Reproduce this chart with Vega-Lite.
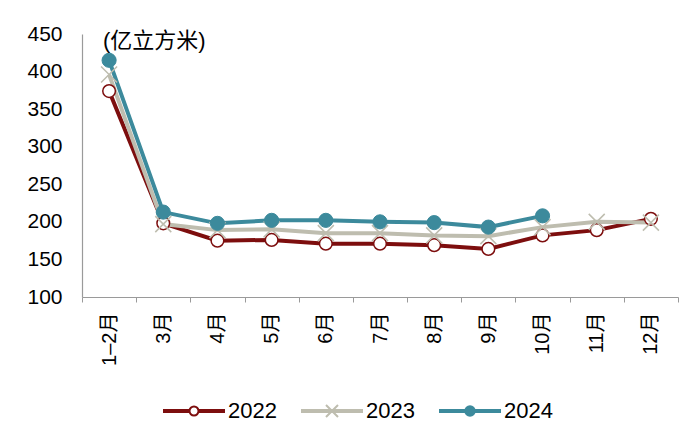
{
  "$schema": "https://vega.github.io/schema/vega-lite/v6.json",
  "width": 596,
  "height": 263,
  "autosize": {"type": "none"},
  "padding": {"left": 82, "top": 34, "right": 22, "bottom": 143},
  "background": "white",
  "config": {
    "view": {"stroke": null},
    "font": "Liberation Sans, Noto Sans CJK SC",
    "axis": {"labelFont": "Liberation Sans, Noto Sans CJK SC", "labelColor": "#000000", "domainColor": "#9a9a9a", "tickColor": "#9a9a9a", "grid": false}
  },
  "title": {
    "text": "(亿立方米)",
    "anchor": "start",
    "frame": "group",
    "orient": "top",
    "offset": -30,
    "dx": 21,
    "fontSize": 22,
    "fontWeight": "normal",
    "color": "#000000",
    "font": "Liberation Sans, Noto Sans CJK SC"
  },
  "data": {
    "values": [
      {"month": "1–2月", "year": "2022", "value": 374},
      {"month": "3月", "year": "2022", "value": 198},
      {"month": "4月", "year": "2022", "value": 175},
      {"month": "5月", "year": "2022", "value": 176},
      {"month": "6月", "year": "2022", "value": 171},
      {"month": "7月", "year": "2022", "value": 171},
      {"month": "8月", "year": "2022", "value": 169},
      {"month": "9月", "year": "2022", "value": 164},
      {"month": "10月", "year": "2022", "value": 182},
      {"month": "11月", "year": "2022", "value": 189},
      {"month": "12月", "year": "2022", "value": 204},
      {"month": "1–2月", "year": "2023", "value": 396},
      {"month": "3月", "year": "2023", "value": 197},
      {"month": "4月", "year": "2023", "value": 189},
      {"month": "5月", "year": "2023", "value": 190},
      {"month": "6月", "year": "2023", "value": 185},
      {"month": "7月", "year": "2023", "value": 185},
      {"month": "8月", "year": "2023", "value": 182},
      {"month": "9月", "year": "2023", "value": 181},
      {"month": "10月", "year": "2023", "value": 193},
      {"month": "11月", "year": "2023", "value": 200},
      {"month": "12月", "year": "2023", "value": 199},
      {"month": "1–2月", "year": "2024", "value": 415},
      {"month": "3月", "year": "2024", "value": 213},
      {"month": "4月", "year": "2024", "value": 198},
      {"month": "5月", "year": "2024", "value": 202},
      {"month": "6月", "year": "2024", "value": 202},
      {"month": "7月", "year": "2024", "value": 200},
      {"month": "8月", "year": "2024", "value": 199},
      {"month": "9月", "year": "2024", "value": 193},
      {"month": "10月", "year": "2024", "value": 208}
    ]
  },
  "encoding": {
    "x": {
      "field": "month",
      "type": "ordinal",
      "sort": ["1–2月", "3月", "4月", "5月", "6月", "7月", "8月", "9月", "10月", "11月", "12月"],
      "bandPosition": 0.5,
      "scale": {"type": "band", "paddingInner": 0, "paddingOuter": 0},
      "axis": {
        "title": null,
        "labelAngle": 270,
        "labelAlign": "right",
        "labelBaseline": "middle",
        "labelFontSize": 20,
        "labelPadding": 10,
        "tickBand": "extent",
        "tickSize": 5,
        "ticks": true,
        "domainWidth": 1.2
      }
    },
    "y": {
      "field": "value",
      "type": "quantitative",
      "scale": {"domain": [100, 450], "nice": false, "zero": false},
      "axis": {
        "title": null,
        "values": [100, 150, 200, 250, 300, 350, 400, 450],
        "ticks": false,
        "tickSize": 0,
        "labelPadding": 20,
        "labelFontSize": 21,
        "domainWidth": 1.2
      }
    }
  },
  "layer": [
    {
      "mark": {"type": "line", "strokeWidth": 4},
      "encoding": {
        "stroke": {
          "field": "year",
          "type": "nominal",
          "scale": {"domain": ["2022", "2023", "2024"], "range": ["#7d0e0e", "#bebdaf", "#3c8a9c"]},
          "legend": {
            "title": null,
            "orient": "none",
            "direction": "horizontal",
            "legendX": 81,
            "legendY": 346,
            "padding": 0,
            "symbolSize": 3600,
            "symbolStrokeWidth": 2,
            "labelFontSize": 22,
            "labelFont": "Liberation Sans",
            "labelColor": "#000000",
            "labelOffset": 3,
            "columnPadding": 21,
            "encode": {
              "symbols": {
                "update": {
                  "shape": {"signal": "datum.value == '2022' ? 'M-1,-0.033L-0.15,-0.033L-0.15,0.033L-1,0.033ZM0.15,-0.033L1,-0.033L1,0.033L0.15,0.033ZM0.15,0C0.15,0.0828 0.0828,0.15 0,0.15C-0.0828,0.15 -0.15,0.0828 -0.15,0C-0.15,-0.0828 -0.0828,-0.15 0,-0.15C0.0828,-0.15 0.15,-0.0828 0.15,0Z' : datum.value == '2023' ? 'M-1,-0.033L1,-0.033L1,0.033L-1,0.033ZM-0.2,-0.2L0.2,0.2M-0.2,0.2L0.2,-0.2' : 'M-1,-0.033L1,-0.033L1,0.033L-1,0.033ZM0.16,0C0.16,0.0884 0.0884,0.16 0,0.16C-0.0884,0.16 -0.16,0.0884 -0.16,0C-0.16,-0.0884 -0.0884,-0.16 0,-0.16C0.0884,-0.16 0.16,-0.0884 0.16,0Z'"},
                  "fill": {"signal": "datum.value == '2022' ? '#ffffff' : datum.value == '2023' ? 'transparent' : '#3c8a9c'"},
                  "strokeWidth": {"value": 2}
                }
              }
            }
          }
        }
      }
    },
    {
      "transform": [{"filter": "datum.year == '2022'"}],
      "mark": {"type": "point", "shape": "circle", "filled": true, "fill": "#ffffff", "stroke": "#7d0e0e", "strokeWidth": 1.5, "size": 160, "opacity": 1}
    },
    {
      "transform": [{"filter": "datum.year == '2023'"}],
      "mark": {"type": "point", "shape": "M-1,-1L1,1M-1,1L1,-1", "filled": false, "stroke": "#bebdaf", "strokeWidth": 1.5, "size": 256, "opacity": 1}
    },
    {
      "transform": [{"filter": "datum.year == '2024'"}],
      "mark": {"type": "point", "shape": "circle", "filled": true, "fill": "#3c8a9c", "stroke": "#3c8a9c", "strokeWidth": 1, "size": 200, "opacity": 1}
    }
  ]
}
